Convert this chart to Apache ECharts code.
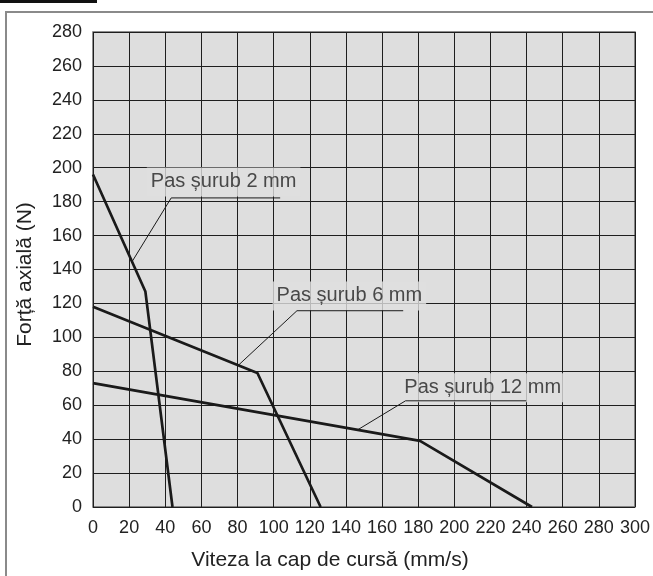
<!DOCTYPE html>
<html>
<head>
    <meta charset="utf-8">
    <title>Forță axială / viteză</title>
    <script src="https://cdn.jsdelivr.net/npm/echarts@6.0.0/dist/echarts.min.js"></script>
    <style>
        html, body { margin: 0; padding: 0; background: #fff; }
        #chart { width: 653px; height: 576px; }
    </style>
</head>
<body>
    <div id="chart"></div>
    <script>
        // curbe: [viteză mm/s, forță N]
        const pas2 = [[0, 196], [29, 127], [44, 0]];
        const pas6 = [[0, 118], [91, 79], [126, 0]];
        const pas12 = [[0, 73], [181, 39], [243, 0]];

        // etichete si liniile lor de legatura
        const labelNames = ['Pas șurub 2 mm', 'Pas șurub 6 mm', 'Pas șurub 12 mm'];
        const labelPos = [[72.3, 191.6], [141.9, 124.4], [215.7, 70.3]];
        const leader2 = [[21.6, 144.6], [43.3, 182.2], [103.6, 182.2]];
        const leader6 = [[80.4, 83.5], [112.9, 115.7], [171.7, 115.7]];
        const leader12 = [[146.5, 45.5], [173, 62.6], [239.8, 62.6]];

        const xName = 'Viteza la cap de cursă (mm/s)';
        const yName = 'Forță axială (N)';

        const font = 'Liberation Sans, Arial, sans-serif';
        const chart = echarts.init(document.getElementById('chart'));

        const curve = data => ({
            type: 'line', data: data, symbol: 'none', z: 5,
            lineStyle: { color: '#1a1a1a', width: 2.7 }
        });
        const leader = data => ({
            type: 'line', data: data, symbol: 'none', z: 6,
            lineStyle: { color: '#1a1a1a', width: 1 }
        });

        chart.setOption({
            animation: false,
            grid: {
                left: 93, right: 12, top: 32, bottom: 64,
                show: true, backgroundColor: '#dedede',
                borderColor: '#6a6a6a', borderWidth: 1.5
            },
            xAxis: {
                type: 'value', min: 0, max: 300, interval: 20,
                name: xName, nameLocation: 'middle', nameGap: 43,
                nameTextStyle: { fontSize: 21, color: '#222', fontFamily: font, padding: [0, 68, 0, 0] },
                axisLine: { show: false }, axisTick: { show: false },
                axisLabel: { fontSize: 18, color: '#222', fontFamily: font, margin: 12 },
                splitLine: { lineStyle: { color: '#1e1e1e', width: 1 } }
            },
            yAxis: {
                type: 'value', min: 0, max: 280, interval: 20,
                name: yName, nameLocation: 'middle', nameGap: 57,
                nameTextStyle: { fontSize: 21, color: '#222', fontFamily: font, padding: [0, 10, 0, 0] },
                axisLine: { show: false }, axisTick: { show: false },
                axisLabel: { fontSize: 18, color: '#222', fontFamily: font, margin: 11 },
                splitLine: { lineStyle: { color: '#1e1e1e', width: 1 } }
            },
            series: [
                curve(pas2), curve(pas6), curve(pas12),
                {
                    type: 'scatter', symbolSize: 0, z: 4,
                    data: labelPos.map((p, i) => ({ value: p, name: labelNames[i] })),
                    label: {
                        show: true, position: 'inside', formatter: '{b}',
                        fontSize: 20, color: '#222', fontFamily: font,
                        backgroundColor: '#dedede', padding: [5, 4, 4, 4]
                    }
                },
                leader(leader2), leader(leader6), leader(leader12)
            ],
            graphic: [
                { type: 'rect', shape: { x: 0, y: 0, width: 97, height: 3 }, style: { fill: '#111' } },
                { type: 'polyline', shape: { points: [[6, 576], [6, 12], [653, 12]] },
                  style: { stroke: '#8a8a8a', lineWidth: 2, fill: null } }
            ]
        });
    </script>
</body>
</html>
